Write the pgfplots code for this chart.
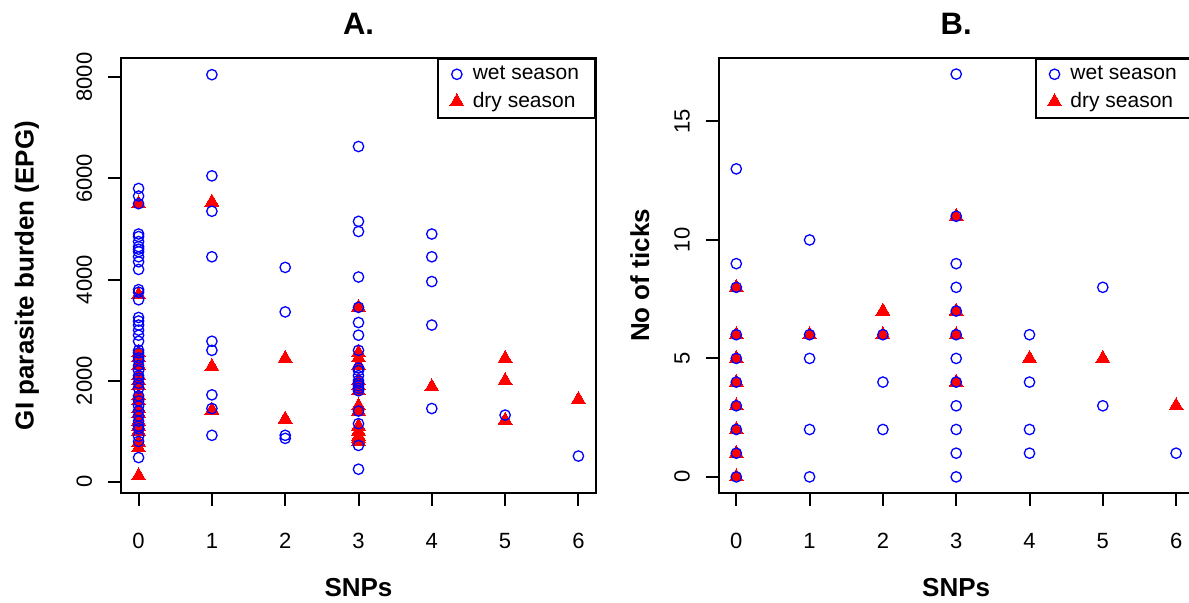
\documentclass[border=0pt]{standalone}
\usepackage{pgfplots}
\pgfplotsset{compat=1.18}
\usepackage{fontspec}
\setmainfont{Liberation Sans}
\definecolor{wetblue}{RGB}{0,0,255}
\definecolor{dryred}{RGB}{255,0,0}
\begin{document}
\begin{tikzpicture}
\pgfplotsset{
 panel/.style={
  scale only axis, width=237.5pt, height=217.5pt, anchor=south west,
  xmin=-0.24, xmax=6.24,
  xtick={0,1,2,3,4,5,6},
  axis line style={line width=1pt},
  every tick/.style={black, line width=1pt},
  tick align=outside, major tick length=6.5pt,
  tick pos=left,
  /pgf/number format/assume math mode=true,
  /pgf/number format/1000 sep={},
  scaled y ticks=false,
  ticklabel style={font=\fontsize{11}{13}\selectfont},
  xticklabel style={anchor=north, inner sep=0pt},
  xticklabel shift=13.5pt,
  yticklabel style={rotate=90, anchor=south, inner sep=0pt},
  yticklabel shift=7.75pt,
  xlabel style={font=\bfseries\fontsize{13}{15}\selectfont, at={(axis description cs:0.5,-0.218)}, anchor=center},
  title style={font=\bfseries\fontsize{15.5}{18}\selectfont, at={(axis description cs:0.5,1.05)}, anchor=center},
  xlabel={SNPs},
  legend style={at={(axis description cs:1,1)}, anchor=north east, draw=black, line width=1pt,
    font=\fontsize{10.5}{12.5}\selectfont, row sep=1pt, column sep=2.5pt, inner xsep=6pt, inner ysep=1.5pt},
  legend cell align=left,
 },
 wet/.style={only marks, mark=o, color=wetblue, mark size=2.6pt, mark options={line width=0.65pt}},
 dry/.style={only marks, mark=triangle*, color=dryred, mark size=4pt, mark options={fill=dryred, draw=dryred, line width=0pt}},
}
% ---------------- Panel A ----------------
\begin{axis}[panel, at={(60.5pt,55pt)},
  ymin=-220, ymax=8380, ytick={0,2000,4000,6000,8000},
  title={A.}, ylabel={GI parasite burden (EPG)},
  ylabel style={font=\bfseries\fontsize{13}{15}\selectfont, at={(axis description cs:-0.198,0.5)}, anchor=center},
]
\addlegendimage{wet}\addlegendentry{wet season}
\addlegendimage{dry}\addlegendentry{dry season}
\addplot[dry, forget plot] coordinates {
(0,5500)(0,3700)(0,2550)(0,2450)(0,2300)(0,2100)(0,2000)(0,1900)(0,1700)(0,1600)(0,1450)(0,1350)(0,1200)(0,1100)(0,1000)(0,780)(0,670)(0,120)
(1,5530)(1,2280)(1,1420)
(2,2440)(2,1240)
(3,3450)(3,2550)(3,2450)(3,2300)(3,2000)(3,1900)(3,1800)(3,1500)(3,1400)(3,1100)(3,1000)(3,900)(3,850)(3,800)
(4,1880)
(5,2440)(5,2000)(5,1220)
(6,1630)
};
\addplot[wet, forget plot] coordinates {
(0,5800)(0,5650)(0,5500)(0,4900)(0,4850)(0,4750)(0,4650)(0,4600)(0,4550)(0,4450)(0,4350)(0,4200)(0,3800)(0,3750)(0,3600)(0,3250)(0,3180)(0,3100)(0,3000)(0,2900)(0,2780)(0,2600)(0,2550)(0,2450)(0,2400)(0,2300)(0,2200)(0,2100)(0,2050)(0,1950)(0,1850)(0,1700)(0,1600)(0,1500)(0,1400)(0,1300)(0,1200)(0,1100)(0,1050)(0,900)(0,800)(0,480)
(1,8050)(1,6050)(1,5350)(1,4450)(1,2780)(1,2600)(1,1720)(1,1450)(1,920)
(2,4240)(2,3360)(2,920)(2,860)
(3,6630)(3,5150)(3,4950)(3,4050)(3,3450)(3,3150)(3,2900)(3,2600)(3,2250)(3,2200)(3,2100)(3,2000)(3,1950)(3,1900)(3,1850)(3,1800)(3,1400)(3,1150)(3,720)(3,250)
(4,4900)(4,4450)(4,3960)(4,3100)(4,1450)
(5,1320)
(6,510)
};
\end{axis}
% ---------------- Panel B ----------------
\begin{axis}[panel, at={(359.35pt,55pt)},
  ymin=-0.68, ymax=17.68, ytick={0,5,10,15},
  title={B.}, ylabel={No of ticks},
  ylabel style={font=\bfseries\fontsize{13}{15}\selectfont, at={(axis description cs:-0.166,0.5)}, anchor=center},
]
\addlegendimage{wet}\addlegendentry{wet season}
\addlegendimage{dry}\addlegendentry{dry season}
\addplot[dry, forget plot] coordinates {
(0,8)(0,6)(0,5)(0,4)(0,3)(0,2)(0,1)(0,0)
(1,6)
(2,7)(2,6)
(3,11)(3,7)(3,6)(3,4)
(4,5)
(5,5)
(6,3)
};
\addplot[wet, forget plot] coordinates {
(0,13)(0,9)(0,8)(0,6)(0,5)(0,4)(0,3)(0,2)(0,1)(0,0)
(1,10)(1,6)(1,5)(1,2)(1,0)
(2,6)(2,4)(2,2)
(3,17)(3,11)(3,9)(3,8)(3,7)(3,6)(3,5)(3,4)(3,3)(3,2)(3,1)(3,0)
(4,6)(4,4)(4,2)(4,1)
(5,8)(5,3)
(6,1)
};
\end{axis}
\pgfresetboundingbox
\useasboundingbox (0,0) rectangle (594.5pt,301.5pt);
\end{tikzpicture}
\end{document}
